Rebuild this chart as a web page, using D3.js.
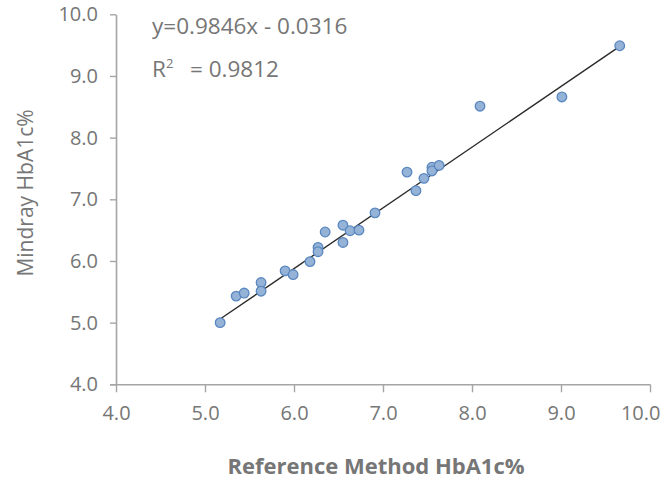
<!DOCTYPE html>
<html>
<head>
<meta charset="utf-8">
<script src="https://cdn.jsdelivr.net/npm/d3@7"></script>
<style>
  html, body { margin: 0; padding: 0; background: #fff; }
  svg { display: block; font-family: "Open Sans", "Noto Sans", sans-serif; }
</style>
</head>
<body>
<svg id="chart" width="663" height="482"></svg>
<script>
// Reference method vs. Mindray HbA1c results (%)
const referenceValues = [5.17, 5.35, 5.44, 5.63, 5.63, 5.90, 5.99, 6.18, 6.27, 6.27, 6.35, 6.55, 6.55,
                         6.63, 6.73, 6.91, 7.27, 7.37, 7.46, 7.55, 7.55, 7.63, 8.09, 9.01, 9.66];
const mindrayValues   = [5.00, 5.43, 5.48, 5.65, 5.51, 5.84, 5.78, 5.99, 6.22, 6.15, 6.47, 6.58, 6.30,
                         6.49, 6.50, 6.78, 7.44, 7.14, 7.34, 7.52, 7.46, 7.55, 8.51, 8.66, 9.49];

// Linear fit reported on the chart
const slope = 0.9846;
const intercept = -0.0316;
const rSquared = 0.9812;

const tickValues = [4, 5, 6, 7, 8, 9, 10];
const axisDomain = [4, 10];

const svg = d3.select("#chart");
const textColor = "#767676";
const axisColor = "#a5a5a5";

const x = d3.scaleLinear().domain(axisDomain).range([116, 650]);
const y = d3.scaleLinear().domain(axisDomain).range([384.3, 14.3]);

// x axis
const xAxis = svg.append("g")
  .attr("transform", `translate(0,${y(4)})`)
  .call(d3.axisBottom(x).tickValues(tickValues).tickFormat(d3.format(".1f")).tickSizeInner(8).tickSizeOuter(0).tickPadding(14));
// y axis
const yAxis = svg.append("g")
  .attr("transform", `translate(${x(4)},0)`)
  .call(d3.axisLeft(y).tickValues(tickValues).tickFormat(d3.format(".1f")).tickSizeInner(6).tickSizeOuter(0).tickPadding(12));

[xAxis, yAxis].forEach(g => {
  g.select(".domain").attr("stroke", axisColor).attr("stroke-width", 1.6);
  g.selectAll(".tick line").attr("stroke", axisColor).attr("stroke-width", 1.4);
  g.selectAll(".tick text").attr("fill", textColor).attr("font-size", 20)
    .attr("font-family", "'Open Sans', sans-serif");
});
xAxis.select(".domain").attr("d", `M${x(4) - 6},0.5H${x(10)}`);
// keep the last x label inside the frame
xAxis.selectAll(".tick text").filter(d => d === 10)
  .attr("text-anchor", "end").attr("dx", 10);

// trend line across the range of the reference values
const xExtent = d3.extent(referenceValues);
svg.append("line")
  .attr("x1", x(xExtent[0])).attr("y1", y(slope * xExtent[0] + intercept))
  .attr("x2", x(xExtent[1])).attr("y2", y(slope * xExtent[1] + intercept))
  .attr("stroke", "#2b2b2b").attr("stroke-width", 1.4);

// sample points
svg.append("g").selectAll("circle")
  .data(referenceValues.map((v, i) => [v, mindrayValues[i]]))
  .join("circle")
  .attr("cx", d => x(d[0]))
  .attr("cy", d => y(d[1]))
  .attr("r", 4.8)
  .attr("fill", "#95b3d7")
  .attr("stroke", "#5a87c0")
  .attr("stroke-width", 1.3);

// fit equation
const eq = svg.append("g").attr("fill", textColor).attr("font-size", 22.5);
eq.append("text").attr("x", 152).attr("y", 34)
  .text(`y=${slope}x - ${Math.abs(intercept).toFixed(4)}`);
const r2 = eq.append("text").attr("x", 152).attr("y", 77);
r2.append("tspan").text("R");
r2.append("tspan").attr("font-size", 13).attr("dy", -9).text("2");
r2.append("tspan").attr("dy", 9).attr("x", 190).text(`= ${rSquared}`);

// axis titles
svg.append("text")
  .attr("x", 376).attr("y", 474)
  .attr("text-anchor", "middle")
  .attr("fill", textColor).attr("font-size", 22).attr("font-weight", "bold")
  .text("Reference Method HbA1c%");

svg.append("text")
  .attr("transform", `translate(33,193) rotate(-90)`)
  .attr("text-anchor", "middle")
  .attr("fill", textColor).attr("font-size", 21)
  .text("Mindray HbA1c%");
</script>
</body>
</html>
